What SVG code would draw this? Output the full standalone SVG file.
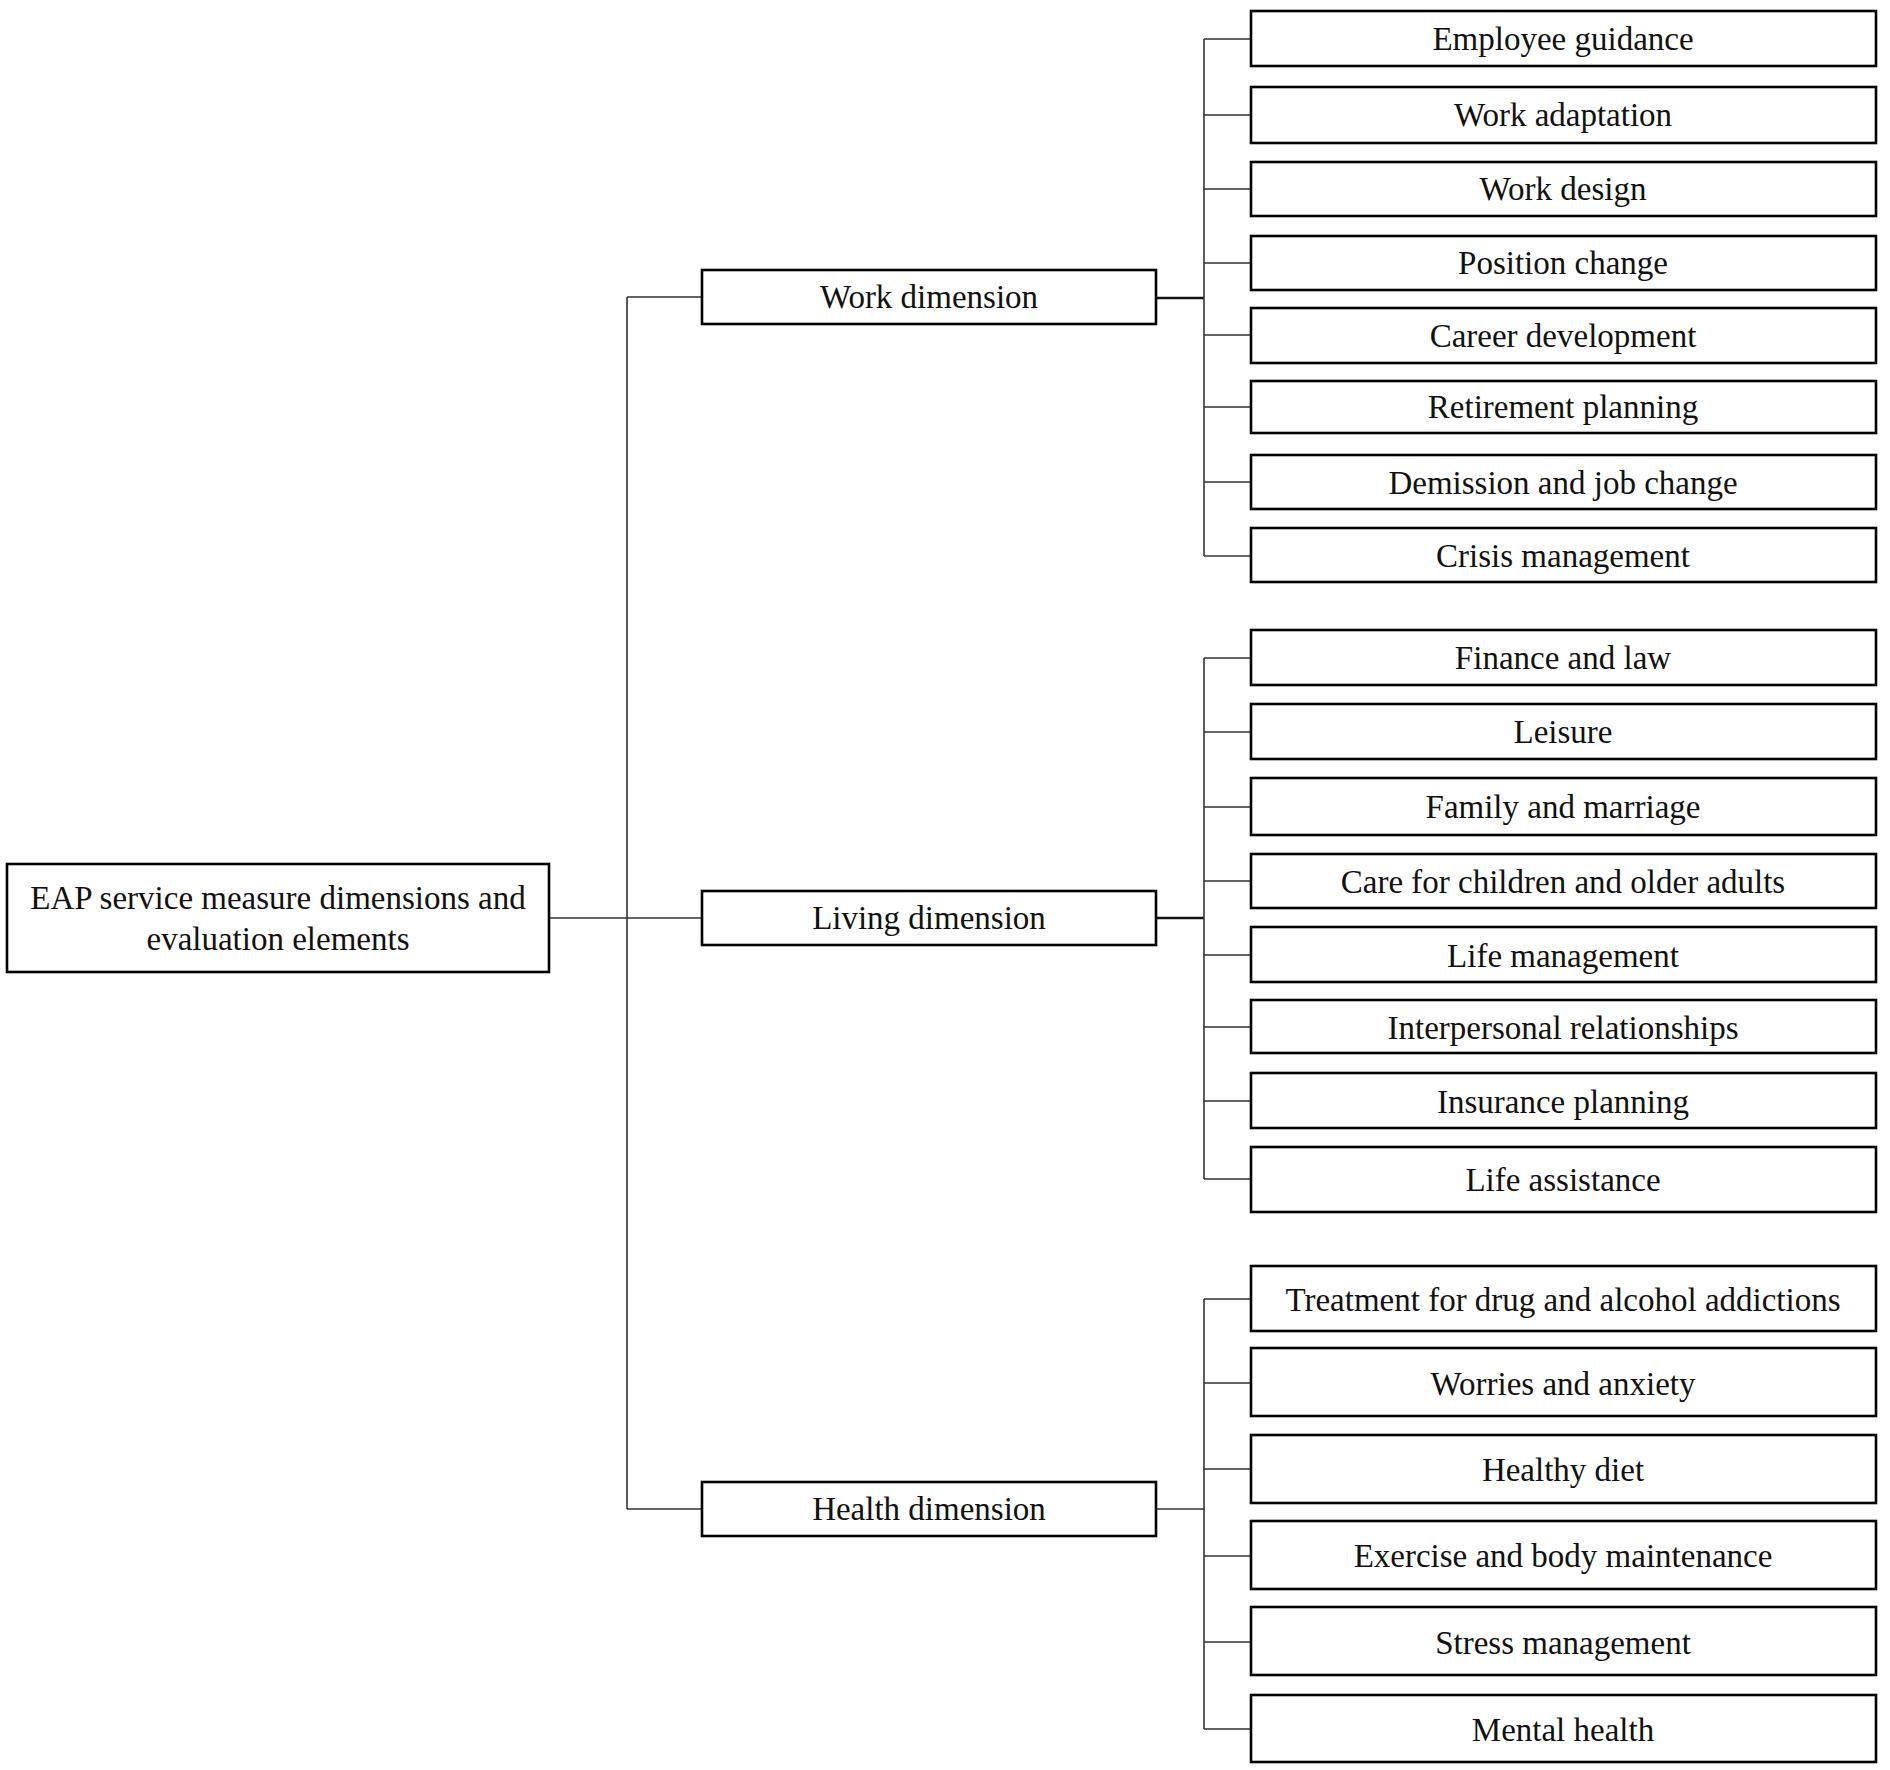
<svg xmlns="http://www.w3.org/2000/svg" width="1890" height="1770" viewBox="0 0 1890 1770">
<style>
.box{fill:#fff;stroke:#000;stroke-width:2.6}
.t{font-family:"Liberation Serif","Times New Roman",serif;font-size:33px;fill:#111;text-anchor:middle}
.c{fill:none;stroke:#333;stroke-width:1.6}
.ct{fill:none;stroke:#111;stroke-width:2.6}
</style>
<rect width="1890" height="1770" fill="#fff"/>
<g id="connectors">
<path class="c" d="M549 918H702M627 297V1509M627 297H702M627 1509H702"/>
<path class="ct" d="M1156 298H1204M1156 918H1204"/>
<path class="c" d="M1156 1509H1204"/>
<path class="c" d="M1204 39V556M1204 39H1251M1204 115H1251M1204 189H1251M1204 263H1251M1204 335H1251M1204 407H1251M1204 482H1251M1204 556H1251"/>
<path class="c" d="M1204 658V1179M1204 658H1251M1204 732H1251M1204 807H1251M1204 881H1251M1204 955H1251M1204 1027H1251M1204 1101H1251M1204 1179H1251"/>
<path class="c" d="M1204 1299V1729M1204 1299H1251M1204 1383H1251M1204 1469H1251M1204 1556H1251M1204 1642H1251M1204 1729H1251"/>
</g>
<g id="root"><rect class="box" x="7" y="864" width="542" height="108"/><text class="t" x="278" y="909">EAP service measure dimensions and</text><text class="t" x="278" y="950">evaluation elements</text></g>
<g id="work"><rect class="box" x="702" y="270" width="454" height="54"/><text class="t" x="929" y="308">Work dimension</text></g>
<g id="living"><rect class="box" x="702" y="891" width="454" height="54"/><text class="t" x="929" y="929">Living dimension</text></g>
<g id="health"><rect class="box" x="702" y="1482" width="454" height="54"/><text class="t" x="929" y="1520">Health dimension</text></g>
<g id="w1"><rect class="box" x="1251" y="11" width="625" height="55"/><text class="t" x="1563" y="50">Employee guidance</text></g>
<g id="w2"><rect class="box" x="1251" y="87" width="625" height="56"/><text class="t" x="1563" y="126">Work adaptation</text></g>
<g id="w3"><rect class="box" x="1251" y="162" width="625" height="54"/><text class="t" x="1563" y="200">Work design</text></g>
<g id="w4"><rect class="box" x="1251" y="236" width="625" height="54"/><text class="t" x="1563" y="274">Position change</text></g>
<g id="w5"><rect class="box" x="1251" y="308" width="625" height="55"/><text class="t" x="1563" y="347">Career development</text></g>
<g id="w6"><rect class="box" x="1251" y="381" width="625" height="52"/><text class="t" x="1563" y="418">Retirement planning</text></g>
<g id="w7"><rect class="box" x="1251" y="455" width="625" height="54"/><text class="t" x="1563" y="494">Demission and job change</text></g>
<g id="w8"><rect class="box" x="1251" y="528" width="625" height="54"/><text class="t" x="1563" y="567">Crisis management</text></g>
<g id="l1"><rect class="box" x="1251" y="630" width="625" height="55"/><text class="t" x="1563" y="669">Finance and law</text></g>
<g id="l2"><rect class="box" x="1251" y="704" width="625" height="55"/><text class="t" x="1563" y="743">Leisure</text></g>
<g id="l3"><rect class="box" x="1251" y="778" width="625" height="57"/><text class="t" x="1563" y="818">Family and marriage</text></g>
<g id="l4"><rect class="box" x="1251" y="854" width="625" height="54"/><text class="t" x="1563" y="893">Care for children and older adults</text></g>
<g id="l5"><rect class="box" x="1251" y="927" width="625" height="55"/><text class="t" x="1563" y="967">Life management</text></g>
<g id="l6"><rect class="box" x="1251" y="1000" width="625" height="53"/><text class="t" x="1563" y="1039">Interpersonal relationships</text></g>
<g id="l7"><rect class="box" x="1251" y="1073" width="625" height="55"/><text class="t" x="1563" y="1113">Insurance planning</text></g>
<g id="l8"><rect class="box" x="1251" y="1147" width="625" height="65"/><text class="t" x="1563" y="1191">Life assistance</text></g>
<g id="h1"><rect class="box" x="1251" y="1266" width="625" height="65"/><text class="t" x="1563" y="1311">Treatment  for drug and alcohol addictions</text></g>
<g id="h2"><rect class="box" x="1251" y="1348" width="625" height="68"/><text class="t" x="1563" y="1395">Worries and anxiety</text></g>
<g id="h3"><rect class="box" x="1251" y="1435" width="625" height="68"/><text class="t" x="1563" y="1481">Healthy diet</text></g>
<g id="h4"><rect class="box" x="1251" y="1521" width="625" height="68"/><text class="t" x="1563" y="1567">Exercise and body maintenance</text></g>
<g id="h5"><rect class="box" x="1251" y="1607" width="625" height="68"/><text class="t" x="1563" y="1654">Stress management</text></g>
<g id="h6"><rect class="box" x="1251" y="1695" width="625" height="67"/><text class="t" x="1563" y="1741">Mental health</text></g>
</svg>
